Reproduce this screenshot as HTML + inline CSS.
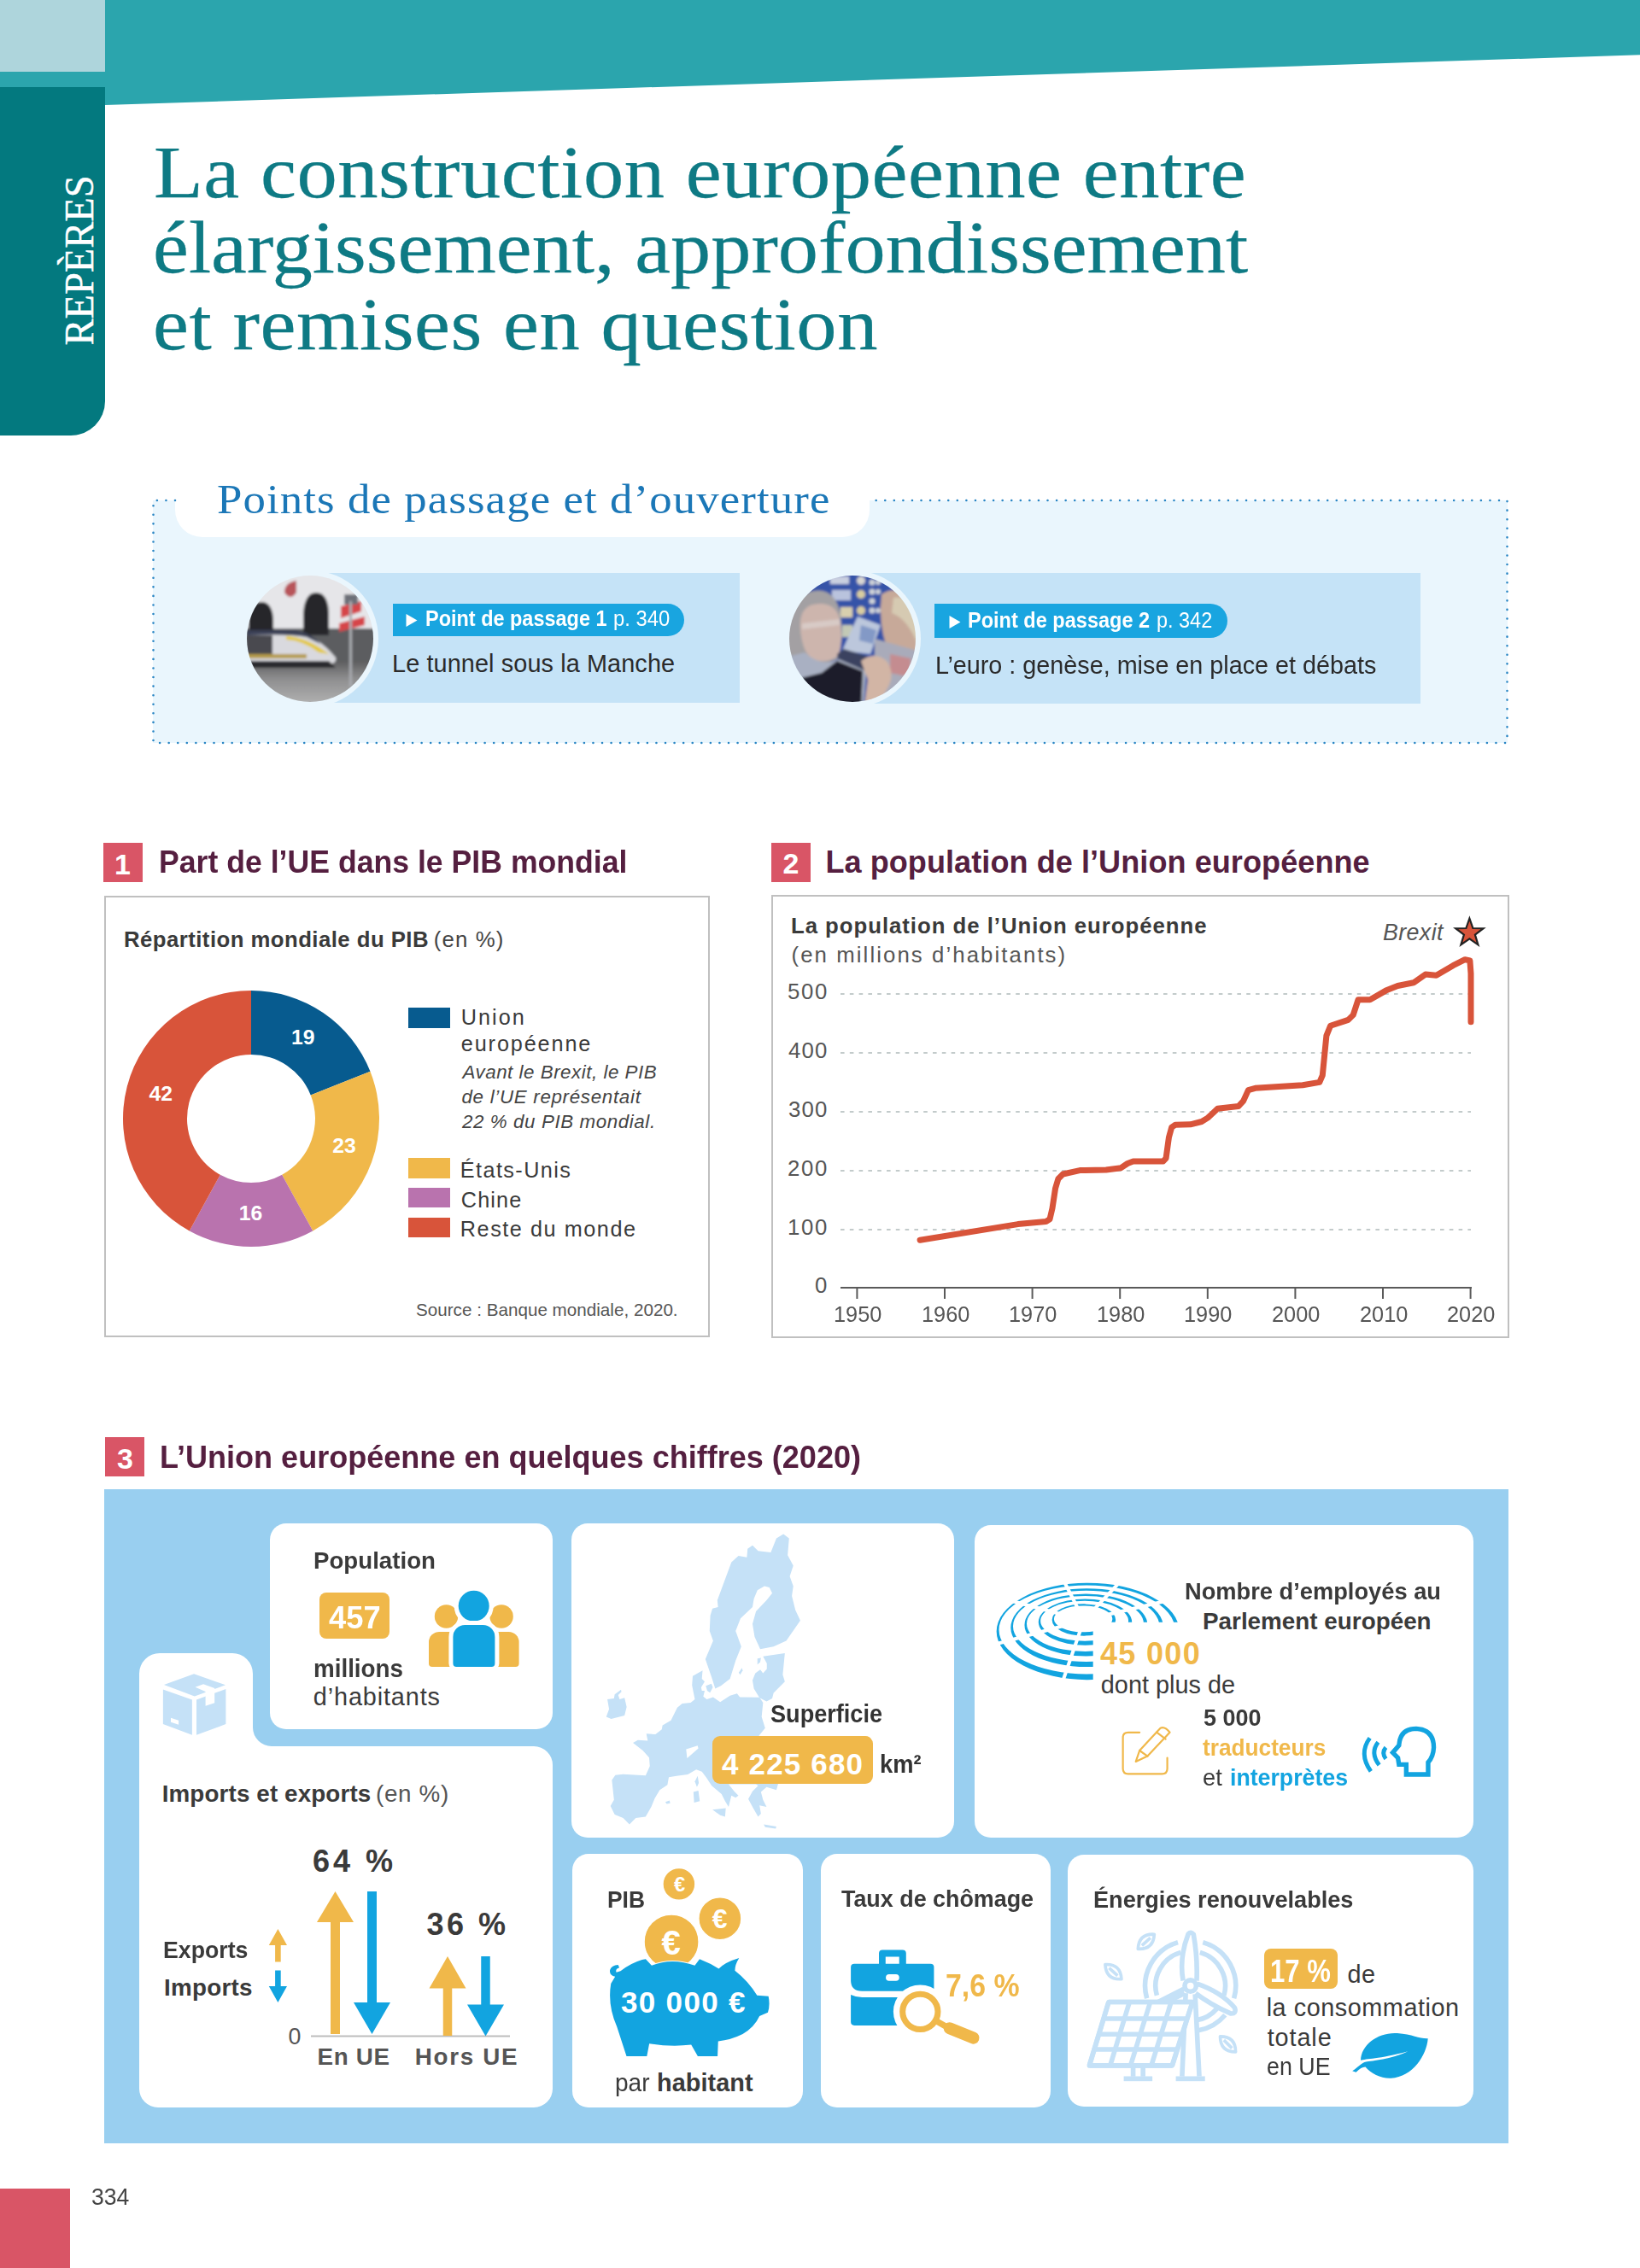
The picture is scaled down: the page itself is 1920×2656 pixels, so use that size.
<!DOCTYPE html><html><head><meta charset="utf-8"><title>Repères</title><style>
html,body{margin:0;padding:0;background:#fff}
body{width:1920px;height:2656px;position:relative;overflow:hidden;font-family:"Liberation Sans",sans-serif}
.t{position:absolute;white-space:pre;line-height:1;transform-origin:0 0}
</style></head><body>
<div style="position:absolute;left:0;top:0;width:1920px;height:124px;background:#2ba5ad;clip-path:polygon(0 0,1920px 0,1920px 64.3px,123px 123px,0 123px)"></div>
<div style="position:absolute;left:0px;top:0px;width:123px;height:84px;background:#aed5dc;"></div>
<div style="position:absolute;left:0px;top:102px;width:123.3px;height:408px;background:#03797f;border-bottom-right-radius:40px;"></div>
<svg style="position:absolute;left:0;top:0" width="200" height="520"><text transform="translate(108.8,404.5) rotate(-90)" font-family="Liberation Serif" font-size="48.5" fill="#fff" stroke="#fff" stroke-width="0.4" textLength="199" lengthAdjust="spacingAndGlyphs">REPÈRES</text></svg>
<span class="t" style="left:179.8px;top:158.5px;font-size:86px;color:#0e7a84;font-family:'Liberation Serif',serif;letter-spacing:0.45px;transform:scaleX(1.1000);-webkit-text-stroke:0.25px #0e7a84;">La construction européenne entre</span>
<span class="t" style="left:178.7px;top:247.0px;font-size:86px;color:#0e7a84;font-family:'Liberation Serif',serif;transform:scaleX(1.0971);-webkit-text-stroke:0.25px #0e7a84;">élargissement, approfondissement</span>
<span class="t" style="left:178.7px;top:336.5px;font-size:86px;color:#0e7a84;font-family:'Liberation Serif',serif;letter-spacing:0.45px;transform:scaleX(1.1000);-webkit-text-stroke:0.25px #0e7a84;">et remises en question</span>
<div style="position:absolute;left:179px;top:586px;width:1586px;height:284px;background:#eaf6fd;"></div>
<div style="position:absolute;left:205px;top:548px;width:813px;height:81px;background:#fff;border-radius:0 0 32px 32px;"></div>
<svg style="position:absolute;left:0;top:560px" width="1920" height="330">
<g stroke="#2a86c4" stroke-width="2.6" stroke-linecap="round" stroke-dasharray="0 10.57" fill="none">
<path d="M205,26 H179.5 V310 H1764.5 V26 H1018"/></g></svg>
<span class="t" style="left:253.9px;top:560.8px;font-size:48px;color:#1b77b7;font-family:'Liberation Serif',serif;letter-spacing:1.00px;transform:scaleX(1.1000);">Points de passage et d’ouverture</span>
<div style="position:absolute;left:363px;top:671px;width:503px;height:151.5px;background:#c5e3f7;"></div>
<div style="position:absolute;left:998px;top:671px;width:664.5px;height:153px;background:#c5e3f7;"></div>
<svg style="position:absolute;left:283px;top:667.6px" width="160" height="160" viewBox="-6 -6 160 160">
<defs><clipPath id="c1"><circle cx="74" cy="74" r="74"/></clipPath><filter id="b1"><feGaussianBlur stdDeviation="1.5"/></filter><linearGradient id="gg" x1="0" y1="0" x2="0" y2="1"><stop offset="0" stop-color="#5c5c5e"/><stop offset="0.35" stop-color="#8e8e8f"/><stop offset="1" stop-color="#bcbcbc"/></linearGradient></defs>
<circle cx="74" cy="74" r="80" fill="#eaf6fd"/>
<g clip-path="url(#c1)"><g filter="url(#b1)">
<rect x="-5" y="-5" width="160" height="160" fill="#e6e6e9"/>
<rect x="-5" y="62" width="160" height="100" fill="#5b5d60"/>
<rect x="-5" y="100" width="160" height="60" fill="url(#gg)"/>
<path d="M2,66 V52 Q4,31 17,31 Q30,31 31,52 V66 Z" fill="#26272c"/>
<path d="M66,70 V44 Q68,20 81,20 Q95,20 96,44 V70 Z" fill="#26272c"/>
<path d="M44,20 q0,-12 14,-14 v14 q-7,10 -14,0z" fill="#b8555a"/>
<path d="M110,36 l24,-6 v12 l-24,8z" fill="#d6454a"/><path d="M108,56 l30,-8 v10 l-30,8z" fill="#d6454a"/>
<rect x="114" y="22" width="16" height="12" fill="#6d7078"/>
<path d="M0,66 H60 Q84,72 104,96 Q106,104 92,104 H0 Z" fill="#d9d9de"/>
<path d="M0,64 H58 Q76,68 86,80 L70,72 Q50,68 0,70 Z" fill="#3b4056"/>
<path d="M46,71 Q70,72 96,92 L84,90 Q66,76 46,75Z" fill="#e3c83a"/>
<rect x="0" y="70" width="30" height="22" fill="#4a4a4f"/>
<rect x="0" y="92" width="70" height="5" fill="#b59b4a"/>
<path d="M0,100 H96 L104,108 H0Z" fill="#2a2a2d"/>
<rect x="120" y="30" width="3" height="100" fill="#a9abb0"/>
</g></g></svg>
<svg style="position:absolute;left:918.4px;top:667.6px" width="160" height="160" viewBox="-6 -6 160 160">
<defs><clipPath id="c2"><circle cx="74" cy="74" r="74"/></clipPath><filter id="b2"><feGaussianBlur stdDeviation="1.5"/></filter></defs>
<circle cx="74" cy="74" r="80" fill="#eaf6fd"/>
<g clip-path="url(#c2)"><g filter="url(#b2)">
<rect x="-5" y="-5" width="160" height="160" fill="#3553a8"/>
<rect x="48" y="1" width="22" height="9" fill="#c9cfe0"/><rect x="50" y="17" width="22" height="12" fill="#b9c3dd"/>
<rect x="60" y="37" width="14" height="12" fill="#d8cfae"/><rect x="62" y="58" width="12" height="14" fill="#c3c9b6"/>
<circle cx="84" cy="6" r="5" fill="#d8d6d2"/><circle cx="84" cy="22" r="5" fill="#d9cda0"/><circle cx="84" cy="41" r="5" fill="#d9cda0"/>
<circle cx="97" cy="8" r="3.5" fill="#cfd3d8"/><circle cx="97" cy="19" r="3.5" fill="#cfd3d8"/><circle cx="97" cy="30" r="3.5" fill="#cfd3d8"/><circle cx="97" cy="41" r="3.5" fill="#cfd3d8"/>
<circle cx="104" cy="8" r="3" fill="#cfd3d8"/><circle cx="104" cy="19" r="3" fill="#cfd3d8"/><circle cx="104" cy="41" r="3" fill="#cfd3d8"/>
<path d="M-5,104 Q-8,30 24,19 Q52,11 60,44 L62,70 L56,98 L-5,120Z" fill="#a3a0a3"/>
<path d="M13,62 Q11,33 36,33 Q57,33 60,56 Q63,82 57,94 Q44,104 27,98 Q15,89 13,62Z" fill="#cdb5ad"/>
<path d="M15,56 L59,51 L59,58 L15,63Z" fill="#ddd3d0" opacity=".7"/>
<path d="M108,22 Q128,8 150,36 V92 L114,84 Q104,54 108,22Z" fill="#c7a999"/>
<path d="M122,26 Q142,22 154,52 L150,80 Q138,50 120,44Z" fill="#d6cab2"/>
<path d="M80,48 L107,58 L95,92 L62,88Z" fill="#bcc7dc"/>
<path d="M84,58 L102,64 L98,80 L82,76Z" fill="#8399c6"/>
<path d="M100,74 L150,88 V160 H100Z" fill="#a9abba"/><path d="M56,92 L64,86 L96,96 L92,116 L58,102Z" fill="#3b4260"/>
<path d="M118,92 l24,5 v22 l-24,-5z" fill="#c48c90"/>
<path d="M-5,96 L18,90 Q38,108 58,98 L90,112 L86,160 H-5Z" fill="#a9b0c2"/>
<path d="M14,120 L38,114 L56,100 L86,112 L84,160 H30Z" fill="#1b1e2a"/>
<path d="M84,100 Q100,88 114,100 Q124,114 116,130 L104,152 H88 L92,122Z" fill="#d2b5a5"/>
</g></g></svg>
<div style="position:absolute;left:460px;top:706.6px;width:341px;height:38.4px;background:#19a5e0;border-radius:0 19.2px 19.2px 0;"></div>
<svg style="position:absolute;left:475px;top:717.5px" width="15" height="18"><path d="M0.5,1 L13.5,8.5 L0.5,16Z" fill="#fff"/></svg>
<span class="t" style="left:498.4px;top:712.2px;font-size:25.75px;color:#fff;font-weight:700;transform:scaleX(0.9110);">Point de passage 1</span>
<span class="t" style="left:718.1px;top:712.2px;font-size:25.75px;color:#fff;transform:scaleX(0.9250);">p. 340</span>
<div style="position:absolute;left:1094.4px;top:707.2px;width:342.4px;height:40.2px;background:#19a5e0;border-radius:0 20.1px 20.1px 0;"></div>
<svg style="position:absolute;left:1110.5px;top:719.5px" width="15" height="18"><path d="M0.5,1 L13.5,8.5 L0.5,16Z" fill="#fff"/></svg>
<span class="t" style="left:1133.1px;top:714.2px;font-size:25.75px;color:#fff;font-weight:700;transform:scaleX(0.9140);">Point de passage 2</span>
<span class="t" style="left:1354.1px;top:714.2px;font-size:25.75px;color:#fff;transform:scaleX(0.9108);">p. 342</span>
<span class="t" style="left:459.0px;top:762.6px;font-size:28.84px;color:#2b2b2b;letter-spacing:0.11px;">Le tunnel sous la Manche</span>
<span class="t" style="left:1094.5px;top:764.6px;font-size:28.84px;color:#2b2b2b;transform:scaleX(0.9976);">L’euro : genèse, mise en place et débats</span>
<div style="position:absolute;left:121px;top:987px;width:46px;height:45.5px;background:#d95566;"></div>
<span class="t" style="left:134.0px;top:994.7px;font-size:33.99px;color:#fff;font-weight:700;">1</span>
<span class="t" style="left:186.0px;top:992.0px;font-size:36.05px;color:#551f40;font-weight:700;transform:scaleX(0.9885);">Part de l’UE dans le PIB mondial</span>
<div style="position:absolute;left:903px;top:987px;width:46px;height:45.5px;background:#d95566;"></div>
<span class="t" style="left:916.5px;top:994.2px;font-size:33.99px;color:#fff;font-weight:700;">2</span>
<span class="t" style="left:966.4px;top:991.5px;font-size:36.05px;color:#551f40;font-weight:700;letter-spacing:0.07px;">La population de l’Union européenne</span>
<div style="position:absolute;left:122px;top:1049px;width:709px;height:517px;box-sizing:border-box;border:2px solid #c0c0c0;background:#fff"></div>
<span class="t" style="left:145.0px;top:1088.2px;font-size:25.75px;color:#3a3a3a;font-weight:700;letter-spacing:0.45px;">Répartition mondiale du PIB</span>
<span class="t" style="left:507.7px;top:1088.2px;font-size:25.75px;color:#444;letter-spacing:1.15px;">(en %)</span>
<svg style="position:absolute;left:0;top:0" width="1920" height="2656"><path d="M294.00,1160.00 A150,150 0 0 1 433.47,1254.78 L363.73,1282.39 A75,75 0 0 0 294.00,1235.00Z" fill="#075b8f"/><path d="M433.47,1254.78 A150,150 0 0 1 366.26,1441.45 L330.13,1375.72 A75,75 0 0 0 363.73,1282.39Z" fill="#f0b84a"/><path d="M366.26,1441.45 A150,150 0 0 1 221.74,1441.45 L257.87,1375.72 A75,75 0 0 0 330.13,1375.72Z" fill="#b973ae"/><path d="M221.74,1441.45 A150,150 0 0 1 294.00,1160.00 L294.00,1235.00 A75,75 0 0 0 257.87,1375.72Z" fill="#d8543a"/></svg>
<span class="t" style="left:341.1px;top:1203.1px;font-size:24.72px;color:#fff;font-weight:700;">19</span>
<span class="t" style="left:389.2px;top:1329.6px;font-size:24.72px;color:#fff;font-weight:700;">23</span>
<span class="t" style="left:279.8px;top:1408.6px;font-size:24.72px;color:#fff;font-weight:700;">16</span>
<span class="t" style="left:174.6px;top:1268.6px;font-size:24.72px;color:#fff;font-weight:700;">42</span>
<div style="position:absolute;left:478px;top:1180px;width:49px;height:23.8px;background:#075b8f;"></div>
<div style="position:absolute;left:478px;top:1356px;width:49px;height:23.8px;background:#f0b84a;"></div>
<div style="position:absolute;left:478px;top:1390.5px;width:49px;height:23.8px;background:#b973ae;"></div>
<div style="position:absolute;left:478px;top:1425.5px;width:49px;height:23.8px;background:#d8543a;"></div>
<span class="t" style="left:539.8px;top:1178.8px;font-size:25.23px;color:#3a3a3a;letter-spacing:2.03px;">Union</span>
<span class="t" style="left:539.8px;top:1209.6px;font-size:25.23px;color:#3a3a3a;letter-spacing:1.88px;">européenne</span>
<span class="t" style="left:541.5px;top:1244.7px;font-size:22.35px;color:#444;font-style:italic;letter-spacing:0.52px;">Avant le Brexit, le PIB</span>
<span class="t" style="left:540.5px;top:1273.8px;font-size:22.35px;color:#444;font-style:italic;letter-spacing:0.69px;">de l’UE représentait</span>
<span class="t" style="left:541.0px;top:1302.6px;font-size:22.35px;color:#444;font-style:italic;letter-spacing:0.59px;">22 % du PIB mondial.</span>
<span class="t" style="left:538.8px;top:1357.6px;font-size:25.23px;color:#3a3a3a;letter-spacing:1.42px;">États-Unis</span>
<span class="t" style="left:539.8px;top:1392.6px;font-size:25.23px;color:#3a3a3a;letter-spacing:1.16px;">Chine</span>
<span class="t" style="left:538.8px;top:1427.3px;font-size:25.23px;color:#3a3a3a;letter-spacing:1.55px;">Reste du monde</span>
<span class="t" style="left:487.0px;top:1524.1px;font-size:20.6px;color:#555;letter-spacing:0.03px;">Source : Banque mondiale, 2020.</span>
<div style="position:absolute;left:903px;top:1048px;width:864px;height:519px;box-sizing:border-box;border:2px solid #c0c0c0;background:#fff"></div>
<span class="t" style="left:926.0px;top:1071.6px;font-size:25.75px;color:#3a3a3a;font-weight:700;letter-spacing:0.97px;">La population de l’Union européenne</span>
<span class="t" style="left:926.5px;top:1106.2px;font-size:25.75px;color:#555;letter-spacing:2.09px;">(en millions d’habitants)</span>
<span class="t" style="left:1619.0px;top:1078.8px;font-size:26.78px;color:#555;font-style:italic;letter-spacing:0.40px;">Brexit</span>
<svg style="position:absolute;left:0;top:0" width="1920" height="2656"><line x1="984" y1="1164" x2="1722" y2="1164" stroke="#c3cbcb" stroke-width="2" stroke-dasharray="4.6 6.2"/><line x1="984" y1="1233" x2="1722" y2="1233" stroke="#c3cbcb" stroke-width="2" stroke-dasharray="4.6 6.2"/><line x1="984" y1="1302" x2="1722" y2="1302" stroke="#c3cbcb" stroke-width="2" stroke-dasharray="4.6 6.2"/><line x1="984" y1="1371" x2="1722" y2="1371" stroke="#c3cbcb" stroke-width="2" stroke-dasharray="4.6 6.2"/><line x1="984" y1="1440" x2="1722" y2="1440" stroke="#c3cbcb" stroke-width="2" stroke-dasharray="4.6 6.2"/><line x1="984" y1="1508" x2="1723" y2="1508" stroke="#5a5a5a" stroke-width="2"/><line x1="1003.4" y1="1508" x2="1003.4" y2="1521" stroke="#5a5a5a" stroke-width="2"/><line x1="1106.0" y1="1508" x2="1106.0" y2="1521" stroke="#5a5a5a" stroke-width="2"/><line x1="1208.6" y1="1508" x2="1208.6" y2="1521" stroke="#5a5a5a" stroke-width="2"/><line x1="1311.2" y1="1508" x2="1311.2" y2="1521" stroke="#5a5a5a" stroke-width="2"/><line x1="1413.8" y1="1508" x2="1413.8" y2="1521" stroke="#5a5a5a" stroke-width="2"/><line x1="1516.4" y1="1508" x2="1516.4" y2="1521" stroke="#5a5a5a" stroke-width="2"/><line x1="1619.0" y1="1508" x2="1619.0" y2="1521" stroke="#5a5a5a" stroke-width="2"/><line x1="1721.6" y1="1508" x2="1721.6" y2="1521" stroke="#5a5a5a" stroke-width="2"/><polyline fill="none" stroke="#d8543a" stroke-width="7" stroke-linecap="round" stroke-linejoin="round" points="1077.1,1452.2 1191.7,1433.6 1224.6,1430.5 1229,1427.7 1232,1415 1235.6,1391.4 1238.9,1380.5 1244.4,1375 1264.1,1370.6 1294.9,1370 1312.4,1367.7 1320.1,1362.5 1326.7,1360 1361.8,1360 1365.1,1356.3 1368.4,1332.2 1371.7,1320.1 1376,1317.3 1393.6,1316.8 1406.8,1313.5 1413.9,1309.1 1420,1303.5 1425.5,1298.2 1449.8,1295.6 1455.6,1289.4 1461.4,1276.6 1469.5,1274.3 1525.1,1270.8 1544.8,1267.4 1548.3,1259.3 1552.9,1212.9 1557.6,1201.3 1578.4,1194.4 1584.2,1188.6 1590,1170.8 1603.9,1170.8 1622.4,1160.1 1636.3,1154.5 1654.9,1150.8 1668.8,1141.1 1681.5,1142.3 1701.2,1130.7 1715.1,1123.7 1720.9,1124.9 1722,1140 1722,1196.7"/><polygon points="1720.4,1075.5 1724.4,1087.0 1736.6,1087.2 1726.9,1094.6 1730.4,1106.3 1720.4,1099.3 1710.4,1106.3 1713.9,1094.6 1704.2,1087.2 1716.4,1087.0" fill="#d8543a" stroke="#222" stroke-width="2.2" stroke-linejoin="miter"/></svg>
<span class="t" style="left:922.0px;top:1149.2px;font-size:25.75px;color:#555;letter-spacing:1.68px;">500</span>
<span class="t" style="left:923.0px;top:1218.2px;font-size:25.75px;color:#555;letter-spacing:1.18px;">400</span>
<span class="t" style="left:923.0px;top:1287.2px;font-size:25.75px;color:#555;letter-spacing:1.18px;">300</span>
<span class="t" style="left:922.0px;top:1356.2px;font-size:25.75px;color:#555;letter-spacing:1.68px;">200</span>
<span class="t" style="left:922.0px;top:1425.2px;font-size:25.75px;color:#555;letter-spacing:1.68px;">100</span>
<span class="t" style="left:954.0px;top:1493.2px;font-size:25.75px;color:#555;">0</span>
<span class="t" style="left:975.9px;top:1527.2px;font-size:25.75px;color:#555;transform:scaleX(0.9828);">1950</span>
<span class="t" style="left:1078.5px;top:1527.2px;font-size:25.75px;color:#555;transform:scaleX(0.9828);">1960</span>
<span class="t" style="left:1181.1px;top:1527.2px;font-size:25.75px;color:#555;transform:scaleX(0.9828);">1970</span>
<span class="t" style="left:1283.7px;top:1527.2px;font-size:25.75px;color:#555;transform:scaleX(0.9828);">1980</span>
<span class="t" style="left:1386.3px;top:1527.2px;font-size:25.75px;color:#555;transform:scaleX(0.9828);">1990</span>
<span class="t" style="left:1488.9px;top:1527.2px;font-size:25.75px;color:#555;transform:scaleX(0.9828);">2000</span>
<span class="t" style="left:1591.5px;top:1527.2px;font-size:25.75px;color:#555;transform:scaleX(0.9828);">2010</span>
<span class="t" style="left:1694.1px;top:1527.2px;font-size:25.75px;color:#555;transform:scaleX(0.9828);">2020</span>
<div style="position:absolute;left:123px;top:1683px;width:46px;height:46px;background:#d95566;"></div>
<span class="t" style="left:137.0px;top:1691.2px;font-size:33.99px;color:#fff;font-weight:700;">3</span>
<span class="t" style="left:187.0px;top:1688.5px;font-size:36.05px;color:#551f40;font-weight:700;transform:scaleX(0.9997);">L’Union européenne en quelques chiffres (2020)</span>
<div style="position:absolute;left:122px;top:1744px;width:1644px;height:765.6px;background:#99cff0;"></div>
<div style="position:absolute;left:316px;top:1784px;width:331.29999999999995px;height:241px;background:#fff;border-radius:19px;"></div>
<div style="position:absolute;left:669px;top:1784px;width:447.5999999999999px;height:367.6999999999998px;background:#fff;border-radius:19px;"></div>
<div style="position:absolute;left:1141px;top:1786px;width:584px;height:365.6999999999998px;background:#fff;border-radius:19px;"></div>
<div style="position:absolute;left:670px;top:2171px;width:270px;height:297px;background:#fff;border-radius:19px;"></div>
<div style="position:absolute;left:960.6px;top:2171px;width:269.4px;height:297px;background:#fff;border-radius:19px;"></div>
<div style="position:absolute;left:1250px;top:2171.5px;width:475px;height:295.5px;background:#fff;border-radius:19px;"></div>
<svg style="position:absolute;left:0;top:0" width="1920" height="2656"><path fill="#fff" d="M163,1960 a24,24 0 0 1 24,-24 h85 a24,24 0 0 1 24,24 v63 a22,22 0 0 0 22,22 h307 a22,22 0 0 1 22,22 v379 a22,22 0 0 1 -22,22 h-440 a22,22 0 0 1 -22,-22 z"/></svg>
<span class="t" style="left:366.8px;top:1814.2px;font-size:27.81px;color:#3a3a3a;font-weight:700;transform:scaleX(0.9956);">Population</span>
<div style="position:absolute;left:373.7px;top:1865px;width:82px;height:54px;background:#f0b84a;border-radius:8px;"></div>
<span class="t" style="left:385.0px;top:1875.6px;font-size:37.08px;color:#fff;font-weight:700;transform:scaleX(0.9794);">457</span>
<span class="t" style="left:366.8px;top:1939.6px;font-size:28.84px;color:#3a3a3a;font-weight:700;transform:scaleX(0.9636);">millions</span>
<span class="t" style="left:366.8px;top:1972.6px;font-size:28.84px;color:#3a3a3a;letter-spacing:0.87px;">d’habitants</span>
<svg style="position:absolute;left:0;top:0" width="1920" height="2656">
<g fill="#f0b84a"><circle cx="522.5" cy="1893" r="13.7"/><circle cx="587.1" cy="1893" r="13.7"/>
<path d="M502,1948 v-25 a12,12 0 0 1 12,-12 h30 v41 h-38 a4,4 0 0 1 -4,-4z"/>
<path d="M607.6,1948 v-25 a12,12 0 0 0 -12,-12 h-30 v41 h38 a4,4 0 0 0 4,-4z"/></g>
<g fill="#12a4e0" stroke="#fff" stroke-width="10" paint-order="stroke"><circle cx="554.7" cy="1880.7" r="18"/>
<path d="M530.4,1948 v-31 a14,14 0 0 1 14,-14 h21 a14,14 0 0 1 14,14 v31 a4,4 0 0 1 -4,4 h-41 a4,4 0 0 1 -4,-4z"/></g>
</svg>
<svg style="position:absolute;left:170px;top:1940px" width="120" height="110" viewBox="0 0 1640 1503">
<g fill="#c5e1f7"><polygon points="300,450 780,275 1285,455 790,635"/><polygon points="285,525 750,690 750,1255 285,1080"/><polygon points="820,690 1290,520 1290,1080 820,1255"/></g>
<g fill="#fff"><polygon points="800,490 930,440 1110,505 1110,740 965,790 965,560"/><polygon points="410,980 535,1020 535,1090 410,1050"/></g></svg>
<span class="t" style="left:189.7px;top:2086.8px;font-size:27.81px;color:#3a3a3a;font-weight:700;letter-spacing:0.12px;">Imports et exports</span>
<span class="t" style="left:440.0px;top:2086.8px;font-size:27.81px;color:#555;letter-spacing:0.68px;">(en %)</span>
<span class="t" style="left:366.0px;top:2162.0px;font-size:36.05px;color:#3a3a3a;font-weight:700;letter-spacing:3.96px;">64 %</span>
<span class="t" style="left:499.5px;top:2235.9px;font-size:36.05px;color:#3a3a3a;font-weight:700;letter-spacing:3.46px;">36 %</span>
<span class="t" style="left:191.0px;top:2269.5px;font-size:27.81px;color:#3a3a3a;font-weight:700;transform:scaleX(0.9605);">Exports</span>
<span class="t" style="left:192.0px;top:2313.5px;font-size:27.81px;color:#3a3a3a;font-weight:700;letter-spacing:0.25px;">Imports</span>
<span class="t" style="left:337.5px;top:2372.3px;font-size:26.78px;color:#555;letter-spacing:1.00px;">0</span>
<span class="t" style="left:371.6px;top:2395.1px;font-size:27.81px;color:#555;font-weight:700;letter-spacing:0.67px;">En UE</span>
<span class="t" style="left:485.7px;top:2395.1px;font-size:27.81px;color:#555;font-weight:700;letter-spacing:1.70px;">Hors UE</span>
<svg style="position:absolute;left:0;top:0" width="1920" height="2656"><line x1="364" y1="2384.5" x2="597" y2="2384.5" stroke="#bdbdbd" stroke-width="2"/><path fill="#f0b84a" d="M392.5,2215 l21.5,36 h-16.0 V2382 h-11 V2251 h-16.0z"/><path fill="#12a4e0" d="M435.5,2382 l21.5,-37 h-16.0 V2215 h-11 V2345 h-16.0z"/><path fill="#f0b84a" d="M524,2291 l21.5,37.5 h-16.25 V2384 h-10.5 V2328.5 h-16.25z"/><path fill="#12a4e0" d="M568.5,2384.5 l21.5,-37 h-16.25 V2291 h-10.5 V2347.5 h-16.25z"/><path fill="#f0b84a" d="M325.4,2259 l10.6,19 h-7.3 V2297.6 h-6.6 V2278 h-7.3z"/><path fill="#12a4e0" d="M325.4,2345 l10.6,-19 h-7.3 V2307.5 h-6.6 V2326 h-7.3z"/></svg>
<svg style="position:absolute;left:690px;top:1780px" width="270" height="370" viewBox="0 0 1640 2247">
<g fill="#c5e1f7">
<path d="M1380,100 L1420,130 L1410,250 L1450,325 L1425,400 L1450,470 L1440,540 L1465,640 L1500,715 L1400,860 L1310,900 L1215,918 L1175,830 L1160,740 L1185,650 L1260,570 L1300,520 L1280,480 L1245,470 L1195,500 L1170,560 L1160,620 L1075,700 L1040,790 L1080,900 L1040,1000 L1000,1130 L935,1180 L895,1200 L870,1120 L825,990 L880,860 L855,790 L860,680 L875,630 L915,620 L910,570 L1010,300 L1060,255 L1120,265 L1125,205 L1160,180 L1200,220 L1290,230 L1330,130Z"/>
<path d="M1235,970 L1390,948 L1380,1050 L1375,1100 L1390,1150 L1310,1230 L1300,1270 L1260,1290 L1210,1265 L1170,1200 L1160,1140 L1180,1090 L1215,1065 L1235,1090 L1262,1060 L1262,1020Z"/>
<path fill-rule="evenodd" d="M805,1070 L800,1130 L820,1150 L795,1190 L800,1215 L820,1215 L810,1255 L835,1275 L880,1260 L930,1295 L1000,1250 L1050,1235 L1070,1260 L1210,1262 L1235,1300 L1225,1400 L1250,1480 L1205,1535 L1300,1560 L1400,1640 L1380,1760 L1340,1885 L1330,1920 L1260,1900 L1220,1935 L1235,1990 L1260,2040 L1210,2030 L1220,2090 L1200,2110 L1165,2050 L1130,1985 L1160,1930 L1200,1890 L1185,1880 L990,1880 L1030,1930 L1060,1960 L1040,1975 L1010,1960 L990,2040 L965,2000 L940,1950 L870,1890 L830,1830 L800,1790 L760,1775 L700,1810 L620,1820 L565,1830 L555,1885 L500,1920 L465,1980 L440,2040 L400,2110 L330,2120 L285,2165 L240,2120 L180,2095 L150,2035 L175,1990 L160,1850 L185,1815 L240,1808 L400,1818 L430,1750 L425,1690 L380,1640 L310,1585 L345,1565 L415,1570 L405,1520 L470,1525 L515,1490 L520,1460 L580,1425 L625,1335 L660,1305 L720,1300 L750,1275 L730,1175 L735,1110Z M688,1630 L770,1605 L775,1625 L695,1695Z"/>
<path d="M128,1275 L175,1270 L180,1240 L225,1207 L228,1222 L205,1245 L215,1275 L250,1265 L265,1330 L250,1390 L155,1415 L120,1400 L140,1345Z"/>
<path d="M875,2060 L970,2050 L965,2110 L930,2100Z"/><path d="M740,1935 L775,1925 L785,2000 L745,2010Z"/><path d="M750,1860 L770,1820 L778,1870 L765,1900Z"/>
<path d="M828,1180 L868,1165 L878,1190 L858,1228 L838,1215Z"/><path d="M1240,2165 L1330,2180 L1325,2195 L1250,2185Z"/>
<path d="M540,2005 L570,1995 L575,2015 L550,2020Z"/><path d="M1062,1085 L1085,1052 L1090,1070 L1072,1100Z"/><path d="M1195,985 L1220,980 L1215,1010 L1195,1030Z"/>
</g></svg>
<span class="t" style="left:902.0px;top:1992.6px;font-size:28.84px;color:#333;font-weight:700;transform:scaleX(0.9401);">Superficie</span>
<div style="position:absolute;left:834px;top:2033px;width:188px;height:56px;background:#f0b84a;border-radius:9px;"></div>
<span class="t" style="left:845.0px;top:2047.9px;font-size:35.02px;color:#fff;font-weight:700;letter-spacing:1.15px;">4 225 680</span>
<span class="t" style="left:1030.1px;top:2052.1px;font-size:28.84px;color:#333;font-weight:700;transform:scaleX(0.9452);">km²</span>
<span class="t" style="left:1387.4px;top:1850.2px;font-size:27.81px;color:#3a3a3a;font-weight:700;transform:scaleX(0.9807);">Nombre d’employés au</span>
<span class="t" style="left:1408.0px;top:1884.5px;font-size:27.81px;color:#3a3a3a;font-weight:700;letter-spacing:0.02px;">Parlement européen</span>
<span class="t" style="left:1288.0px;top:1918.5px;font-size:36.05px;color:#f0b84a;font-weight:700;letter-spacing:1.30px;">45 000</span>
<span class="t" style="left:1288.8px;top:1959.1px;font-size:28.84px;color:#3a3a3a;letter-spacing:0.01px;">dont plus de</span>
<span class="t" style="left:1409.0px;top:1998.3px;font-size:27.81px;color:#3a3a3a;font-weight:700;transform:scaleX(0.9696);">5 000</span>
<span class="t" style="left:1408.0px;top:2032.5px;font-size:27.81px;color:#f0b84a;font-weight:700;transform:scaleX(0.9432);">traducteurs</span>
<span class="t" style="left:1408.0px;top:2067.5px;font-size:27.81px;color:#3a3a3a;transform:scaleX(0.9795);">et</span>
<span class="t" style="left:1440.0px;top:2067.5px;font-size:27.81px;color:#12a4e0;font-weight:700;transform:scaleX(0.9606);">interprètes</span>
<svg style="position:absolute;left:1150px;top:1830px" width="260" height="160" viewBox="0 0 1640 1009">
<defs><clipPath id="hc"><path d="M0,0 H1640 V440 H818 V1009 H0Z"/></clipPath></defs>
<g clip-path="url(#hc)"><g fill="#12a4e0"><path fill-rule="evenodd" d="M515.0,422.5 a235.0,117.5 0 1 0 470.0,0 a235.0,117.5 0 1 0 -470.0,0z M529.0,415.5 a216.0,97.5 0 1 0 432.0,0 a216.0,97.5 0 1 0 -432.0,0z"/><path fill-rule="evenodd" d="M415.0,439.0 a345.0,171.0 0 1 0 690.0,0 a345.0,171.0 0 1 0 -690.0,0z M430.0,430.7 a324.5,148.5 0 1 0 649.0,0 a324.5,148.5 0 1 0 -649.0,0z"/><path fill-rule="evenodd" d="M312.0,460.0 a454.0,230.0 0 1 0 908.0,0 a454.0,230.0 0 1 0 -908.0,0z M328.0,450.4 a432.0,205.0 0 1 0 864.0,0 a432.0,205.0 0 1 0 -864.0,0z"/><path fill-rule="evenodd" d="M210.0,480.0 a564.0,290.0 0 1 0 1128.0,0 a564.0,290.0 0 1 0 -1128.0,0z M227.0,469.1 a540.5,262.5 0 1 0 1081.0,0 a540.5,262.5 0 1 0 -1081.0,0z"/><path fill-rule="evenodd" d="M105.0,507.5 a675.0,357.5 0 1 0 1350.0,0 a675.0,357.5 0 1 0 -1350.0,0z M123.0,495.3 a650.0,327.5 0 1 0 1300.0,0 a650.0,327.5 0 1 0 -1300.0,0z"/></g><g stroke="#fff" stroke-width="26"><line x1="750" y1="425" x2="68" y2="243"/><line x1="750" y1="425" x2="568" y2="68"/><line x1="750" y1="425" x2="1056" y2="100"/><line x1="750" y1="425" x2="1472" y2="256"/><line x1="750" y1="425" x2="-43" y2="640"/><line x1="750" y1="425" x2="568" y2="952"/></g></g></svg>
<svg style="position:absolute;left:1300px;top:2000px" width="400" height="110" viewBox="0 0 1640 451">
<g fill="none" stroke="#f0b84a" stroke-width="9" stroke-linecap="round" stroke-linejoin="round">
<path d="M140,118 H85 Q60,118 60,143 V292 Q60,317 85,317 H248 Q273,317 273,292 V240"/>
<path d="M122,258 L140,205 L240,97 Q262,88 285,118 L178,232 Z"/><path d="M140,205 L178,232"/><path d="M222,117 L265,150"/></g>
<g fill="none" stroke="#12a4e0" stroke-width="22" stroke-linejoin="miter">
<path d="M1420,320 V272 H1385 L1380,240 L1355,215 L1385,180 Q1390,100 1468,100 Q1552,105 1552,190 Q1550,235 1525,262 V320 Z"/>
<path d="M1322,190 Q1300,215 1322,245" stroke-width="20"/><path d="M1285,165 Q1245,215 1290,275" stroke-width="20"/><path d="M1245,145 Q1190,220 1250,305" stroke-width="20"/></g></svg>
<span class="t" style="left:711.4px;top:2210.5px;font-size:27.81px;color:#3a3a3a;font-weight:700;transform:scaleX(0.9489);">PIB</span>
<svg style="position:absolute;left:690px;top:2180px" width="230" height="240" viewBox="0 0 1640 1711">
<g fill="#f0b84a" stroke="#fff" stroke-width="10"><circle cx="748" cy="188" r="135"/><circle cx="685" cy="670" r="228"/><circle cx="1090" cy="475" r="178"/></g>
<path fill="#12a4e0" stroke="#fff" stroke-width="14" paint-order="stroke" d="M440,820 L470,815 L520,868 Q690,800 880,868 L920,815 Q1010,850 1080,895 Q1130,840 1250,805 Q1215,860 1215,910 Q1330,1000 1400,1118 L1495,1125 Q1510,1200 1490,1260 L1420,1290 Q1380,1380 1280,1440 Q1180,1490 1075,1500 L1070,1625 L905,1625 L850,1530 Q680,1550 500,1520 L480,1625 L310,1625 L230,1380 Q150,1200 180,1020 L215,960 Q165,950 172,905 Q185,865 240,862 L250,885 Q215,895 225,925 L260,915 Q340,850 440,820Z"/>
</svg>
<span class="t" style="left:789.0px;top:2195.9px;font-size:23.69px;color:#fff;font-weight:700;">€</span>
<span class="t" style="left:833.8px;top:2232.0px;font-size:31.93px;color:#fff;font-weight:700;">€</span>
<span class="t" style="left:774.5px;top:2255.5px;font-size:40.17px;color:#fff;font-weight:700;">€</span>
<span class="t" style="left:727.0px;top:2327.4px;font-size:35.02px;color:#fff;font-weight:700;letter-spacing:1.31px;">30 000 €</span>
<span class="t" style="left:719.8px;top:2424.6px;font-size:28.84px;color:#3a3a3a;transform:scaleX(0.9740);">par</span>
<span class="t" style="left:769.0px;top:2424.6px;font-size:28.84px;color:#3a3a3a;font-weight:700;letter-spacing:0.07px;">habitant</span>
<span class="t" style="left:985.4px;top:2209.9px;font-size:27.81px;color:#3a3a3a;font-weight:700;transform:scaleX(0.9670);">Taux de chômage</span>
<svg style="position:absolute;left:980px;top:2260px" width="240" height="150" viewBox="0 0 1640 1025">
<g fill="#12a4e0"><path fill-rule="evenodd" d="M335,275 V188 Q335,160 363,160 H524 Q552,160 552,188 V275Z M388,275 V215 H497 V275Z"/>
<path d="M110,300 Q110,272 138,272 H747 Q775,272 775,300 V490 H200 Q110,490 110,405Z"/>
<path d="M110,520 Q150,540 200,540 H775 V765 H138 Q110,765 110,737Z"/></g>
<rect x="390" y="355" width="107" height="53" rx="26" fill="#fff"/>
<circle cx="665" cy="655" r="215" fill="#fff"/>
<path d="M790,725 L1085,862" stroke="#fff" stroke-width="130" stroke-linecap="round"/>
<circle cx="665" cy="655" r="141" fill="#fff" stroke="#f0b84a" stroke-width="48"/>
<path d="M795,730 L900,790" stroke="#f0b84a" stroke-width="50"/>
<path d="M900,788 L1090,865" stroke="#f0b84a" stroke-width="96" stroke-linecap="round"/></svg>
<span class="t" style="left:1106.6px;top:2308.0px;font-size:36.05px;color:#f0b84a;font-weight:700;transform:scaleX(0.9383);">7,6 %</span>
<span class="t" style="left:1280.4px;top:2210.9px;font-size:27.81px;color:#3a3a3a;font-weight:700;transform:scaleX(0.9755);">Énergies renouvelables</span>
<div style="position:absolute;left:1480px;top:2282px;width:86px;height:47px;background:#f0b84a;border-radius:8px;"></div>
<span class="t" style="left:1487.3px;top:2289.6px;font-size:37.08px;color:#fff;font-weight:700;transform:scaleX(0.8388);">17 %</span>
<span class="t" style="left:1577.6px;top:2297.6px;font-size:28.84px;color:#3a3a3a;letter-spacing:0.37px;">de</span>
<span class="t" style="left:1482.7px;top:2336.6px;font-size:28.84px;color:#3a3a3a;letter-spacing:0.53px;">la consommation</span>
<span class="t" style="left:1483.7px;top:2371.6px;font-size:28.84px;color:#3a3a3a;letter-spacing:0.90px;">totale</span>
<span class="t" style="left:1482.8px;top:2405.6px;font-size:28.84px;color:#3a3a3a;transform:scaleX(0.9308);">en UE</span>
<svg style="position:absolute;left:1570px;top:2370px" width="120" height="80" viewBox="0 0 1640 1093">
<path fill="#12a4e0" d="M1390,235 C1250,240 1150,170 900,150 C600,130 320,330 315,585 C400,555 600,570 1070,440 C800,570 500,590 400,608 C330,620 270,700 180,755 L240,775 C300,720 340,690 390,690 C480,800 650,880 800,870 C1150,850 1370,500 1390,235Z"/></svg>
<svg style="position:absolute;left:1265px;top:2250px" width="200" height="200" viewBox="0 0 1640 1640">
<g fill="none" stroke="#c5e1f7" stroke-width="46" stroke-linejoin="round">
<path d="M637,740 A435,435 0 0 1 935,202"/><path d="M1175,202 A435,435 0 0 1 1473,740"/><path d="M1388,900 A435,435 0 0 1 1131,1048"/><path d="M733,712 A335,335 0 0 1 963,298"/><path d="M1147,298 A335,335 0 0 1 1377,712"/><path d="M1312,835 A335,335 0 0 1 1113,950"/>
<path d="M985,570 Q945,350 1035,120 Q1060,95 1085,125 Q1125,350 1115,570" />
<path d="M990,650 L745,775 M1000,690 L800,790"/>
<path d="M1120,600 Q1350,680 1480,830 Q1500,890 1440,885 Q1250,800 1105,690"/>
<path d="M1010,690 L975,1490 M1100,700 L1140,1490"/>
<circle cx="1055" cy="620" r="55"/>
<g fill="#fff"><polygon points="270,775 1075,775 880,1385 85,1385"/></g><line x1="270" y1="775" x2="85" y2="1385"/><line x1="470" y1="775" x2="285" y2="1385"/><line x1="670" y1="775" x2="480" y2="1385"/><line x1="870" y1="775" x2="680" y2="1385"/><line x1="1075" y1="775" x2="880" y2="1385"/><line x1="270" y1="775" x2="1075" y2="775"/><line x1="221" y1="935" x2="1024" y2="935"/><line x1="176" y1="1085" x2="976" y2="1085"/><line x1="132" y1="1230" x2="930" y2="1230"/><line x1="85" y1="1385" x2="880" y2="1385"/>
<path d="M505,1385 V1490 M600,1385 V1490"/>
<g stroke-width="30" transform="translate(630,195) rotate(-42)"><path d="M-105,0 Q0,-105 105,0 Q0,105 -105,0Z M-55,0 H55"/></g><g stroke-width="30" transform="translate(315,485) rotate(42)"><path d="M-105,0 Q0,-105 105,0 Q0,105 -105,0Z M-55,0 H55"/></g><g stroke-width="30" transform="translate(1415,1180) rotate(45)"><path d="M-105,0 Q0,-105 105,0 Q0,105 -105,0Z M-55,0 H55"/></g>
</g><g fill="#c5e1f7"><rect x="415" y="1488" width="275" height="47"/><rect x="915" y="1488" width="280" height="47"/></g></svg>
<div style="position:absolute;left:0px;top:2563px;width:82px;height:93px;background:#d95566;"></div>
<span class="t" style="left:107.0px;top:2559.0px;font-size:27.81px;color:#444;transform:scaleX(0.9573);">334</span>
</body></html>
